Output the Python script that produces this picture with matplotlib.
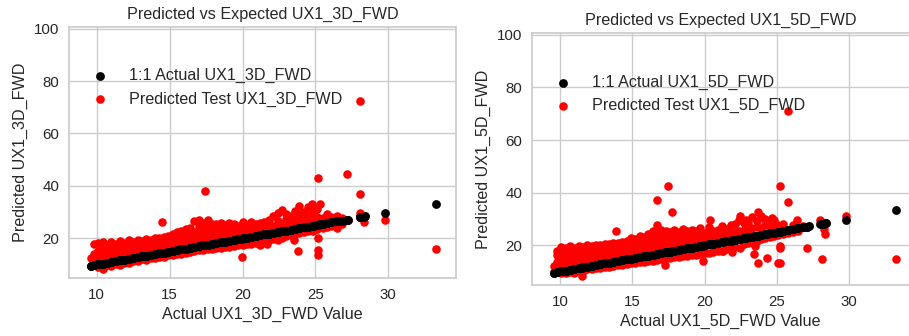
import matplotlib
matplotlib.use('Agg')
import matplotlib.pyplot as plt

# --- data ---
# each entry of act_* is an actual value; pred_* holds the predicted values seen at that actual value
act_3d = [9.6, 9.8, 10.1, 10.4, 10.7, 11.0, 11.3, 11.6, 11.9, 12.2, 12.5, 12.8, 13.1, 13.4, 13.7,
          14.0, 14.3, 14.46, 14.6, 14.9, 15.2, 15.5, 15.8, 16.1, 16.4, 16.7, 17.0, 17.3, 17.43, 17.6,
          17.9, 18.2, 18.5, 18.8, 19.1, 19.4, 19.7, 19.94, 20.0, 20.3, 20.6, 20.9, 21.2, 21.5, 21.7,
          21.8, 22.1, 22.4, 22.7, 23.0, 23.3, 23.5, 23.6, 23.83, 23.9, 24.2, 24.5, 24.75, 24.8, 25.1,
          25.2, 25.3, 25.5, 25.8, 26.1, 26.5, 26.8, 27.15, 27.2, 28.05, 28.33, 28.4, 29.77, 33.25]
pred_3d = [[9.6, 12.4], [10.8, 14.0, 17.8], [9.0, 12.0, 15.2, 18.3], [8.4, 11.0, 13.6, 16.5, 18.6],
           [9.8, 12.6, 15.0, 17.6], [9.6, 11.8, 14.2, 16.6, 18.8], [10.2, 13.0, 15.6, 18.0],
           [10.0, 12.4, 14.8, 17.2, 19.0], [10.8, 13.8, 16.4, 18.4], [10.6, 12.8, 15.2, 17.6, 19.2],
           [11.4, 14.2, 16.6, 18.6], [11.2, 13.4, 15.8, 18.0, 19.4], [12.0, 14.6, 17.0, 19.0],
           [11.8, 14.0, 16.2, 18.4, 19.6], [12.4, 15.2, 17.6, 19.4],
           [12.4, 14.6, 16.8, 19.0, 20.2], [13.0, 15.6, 18.0, 20.0], [26.3],
           [13.0, 15.0, 17.2, 19.4, 20.6], [13.6, 16.2, 18.6, 21.0], [13.6, 15.6, 17.8, 20.0, 21.8],
           [14.2, 16.8, 19.2, 22.4], [14.2, 16.4, 18.4, 20.6, 23.0], [14.6, 17.2, 19.6, 22.0, 23.6],
           [15.0, 17.0, 19.0, 21.2, 24.0], [15.2, 17.8, 20.2, 22.6, 26.5],
           [15.4, 17.6, 19.8, 22.0, 24.4, 27.2], [15.6, 18.2, 20.6, 23.2, 25.8], [38.1],
           [15.8, 18.0, 20.0, 22.2, 24.6, 27.0],
           [16.0, 18.6, 21.0, 23.4, 25.6], [16.2, 18.4, 20.6, 22.8, 25.4], [16.4, 19.0, 21.4, 23.8, 26.0],
           [16.6, 18.8, 21.0, 23.2, 25.2], [16.8, 19.4, 21.8, 24.2, 25.8], [17.0, 19.2, 21.4, 23.6, 25.6],
           [17.4, 19.8, 22.2, 24.6], [13.0], [17.6, 20.0, 22.0, 24.0, 26.2], [17.8, 20.4, 22.6, 25.0],
           [18.0, 20.6, 22.4, 24.6, 26.4], [18.2, 21.0, 23.2, 25.4], [17.4, 19.0, 21.2, 23.6, 26.0],
           [18.6, 21.6, 24.4, 26.4], [17.8],
           [19.2, 21.8, 23.6, 25.6, 27.2], [19.6, 22.2, 24.8, 28.4], [19.4, 22.4, 24.4, 26.6, 29.6],
           [20.0, 22.8, 25.6, 30.8], [20.8, 23.0, 25.0, 27.4, 29.2], [21.2, 23.4, 26.2, 28.6], [19.3],
           [21.6, 23.6, 25.8, 28.0, 30.6], [15.2], [22.0, 24.0, 26.4, 29.4, 32.4], [22.4, 24.2, 27.0, 30.2],
           [22.8, 24.6, 26.8, 29.0, 32.0], [33.1], [23.0, 24.8, 27.6, 30.4], [23.4, 25.2, 28.0, 31.2],
           [20.2, 15.5, 13.6, 43.1], [33.3, 25.3], [24.0, 25.6, 27.6], [24.4, 25.8, 29.3], [24.8, 26.1, 28.2],
           [23.8, 26.5, 28.5], [25.6, 26.8, 27.6], [27.15, 44.4], [27.2], [72.4, 36.9, 29.8], [26.3],
           [28.4], [27.2], [15.8]]

act_5d = [9.6, 9.8, 10.1, 10.4, 10.7, 11.0, 11.3, 11.5, 11.6, 11.9, 12.2, 12.5, 12.8, 13.1, 13.4,
          13.7, 13.88, 14.0, 14.3, 14.6, 14.9, 15.2, 15.5, 15.8, 16.1, 16.4, 16.69, 16.7, 17.0, 17.27,
          17.3, 17.47, 17.6, 17.75, 17.9, 18.2, 18.5, 18.8, 19.1, 19.4, 19.7, 19.9, 20.0, 20.3, 20.4,
          20.6, 20.9, 21.2, 21.3, 21.5, 21.8, 21.9, 22.1, 22.4, 22.46, 22.7, 22.9, 23.0, 23.3, 23.4,
          23.5, 23.6, 23.7, 23.9, 24.2, 24.3, 24.5, 24.65, 24.8, 25.1, 25.22, 25.4, 25.76, 25.8, 26.1,
          26.4, 26.5, 26.8, 27.1, 27.2, 28.0, 28.1, 28.27, 28.34, 28.4, 29.77, 33.23]
pred_5d = [[10.0, 12.2], [10.8, 13.6, 16.2, 17.8], [9.6, 12.0, 14.6, 17.4, 19.2], [9.4, 11.2, 13.8, 16.4, 18.8],
           [10.0, 12.6, 15.2, 17.8, 19.6], [9.6, 11.8, 14.2, 16.6, 19.0], [10.4, 13.0, 15.6, 18.2, 19.8],
           [8.5], [10.2, 12.4, 14.8, 17.2, 19.4], [10.8, 13.8, 16.4, 18.6, 20.0],
           [10.8, 12.8, 15.2, 17.6, 19.6], [11.4, 14.2, 16.6, 19.0, 20.2], [11.4, 13.4, 15.8, 18.0, 20.0],
           [11.8, 14.6, 17.0, 19.4, 20.6], [11.8, 14.0, 16.2, 18.4, 20.4],
           [12.2, 15.0, 17.4, 19.8, 21.0], [25.6], [12.4, 14.6, 16.8, 19.0, 20.8],
           [12.6, 15.6, 18.0, 20.4, 21.4], [12.8, 15.0, 17.2, 19.4, 21.6], [13.2, 16.0, 18.6, 21.2, 22.6],
           [13.4, 15.6, 17.8, 20.2, 22.4], [13.6, 16.6, 19.2, 21.8, 23.6], [13.8, 16.2, 18.4, 20.6, 23.0],
           [14.0, 17.0, 19.6, 22.2, 24.2], [14.2, 16.6, 18.8, 21.2, 23.6, 25.4], [27.9, 37.4],
           [14.4, 17.4, 20.0, 22.6, 25.0], [14.6, 17.2, 19.6, 22.0, 24.4, 26.0], [12.6],
           [15.0, 18.0, 20.6, 23.2, 25.4], [42.5], [15.2, 17.8, 20.2, 22.6, 25.0], [32.7],
           [15.4, 18.4, 21.0, 23.6, 25.8], [15.6, 18.2, 20.6, 22.8, 25.2], [15.8, 18.8, 21.4, 23.8, 26.2],
           [16.0, 18.6, 21.0, 23.4, 25.6], [16.2, 19.2, 21.8, 24.2, 26.0], [16.4, 19.0, 21.4, 23.6, 25.4],
           [16.8, 19.6, 22.2, 24.6, 26.4], [13.9], [17.0, 20.0, 22.4, 24.8], [17.2, 20.4, 22.8, 25.4, 27.0],
           [29.8], [17.6, 20.6, 23.0, 25.6], [17.8, 20.9, 23.4, 26.0], [18.0, 21.2, 23.8, 27.2], [17.7],
           [18.4, 21.5, 24.0, 26.2], [18.8, 21.8, 24.6, 27.6], [17.3], [19.4, 22.1, 25.0, 28.0],
           [22.4, 25.4, 29.6], [19.0, 31.3], [20.4, 22.7, 26.0, 28.4], [29.8], [21.0, 23.0, 25.8, 28.8],
           [21.4, 23.3, 26.4, 30.6], [16.5], [19.6], [21.8, 23.6, 27.0, 29.4], [13.3, 32.6],
           [22.2, 23.9, 26.6, 31.0], [22.6, 24.2, 27.6, 30.0], [15.2], [23.0, 24.5, 26.8, 28.6], [30.2],
           [23.4, 24.8, 27.4, 29.6], [13.3, 23.8, 25.1, 27.6], [42.7, 19.6, 19.0, 13.3], [24.2, 25.4, 28.2],
           [71.0], [36.6, 24.6, 25.8], [25.0, 26.1, 27.8], [29.8, 26.4], [25.4], [26.8, 27.4],
           [19.0, 27.1], [27.2], [29.8], [14.8], [26.2], [24.3], [28.4], [31.3], [14.8]]

panels = [('UX1_3D_FWD', act_3d, pred_3d), ('UX1_5D_FWD', act_5d, pred_5d)]
x_ticks = [10, 15, 20, 25, 30]
y_ticks = [20, 40, 60, 80, 100]

# --- style (close to seaborn whitegrid) ---
plt.rcParams['font.family'] = ['Liberation Sans', 'DejaVu Sans']
plt.rcParams['text.color'] = '.15'
plt.rcParams['axes.labelcolor'] = '.15'
plt.rcParams['xtick.color'] = '.15'
plt.rcParams['ytick.color'] = '.15'

fig = plt.figure(figsize=(9.09, 3.36), dpi=100)
axes = [fig.add_axes([69 / 909, 1 - 278 / 336, 387 / 909, 251 / 336]),
        fig.add_axes([532 / 909, 1 - 285 / 336, 377 / 909, 251.7 / 336])]
xlims = [(8.1, 34.64), (8.06, 34.15)]

for ax, (name, act, pred), xl in zip(axes, panels, xlims):
    xs = [a for a, ps in zip(act, pred) for _ in ps]
    ys = [p for ps in pred for p in ps]

    red = ax.scatter(xs, ys, s=38, c='red', linewidths=0, zorder=2, label=f'Predicted Test {name}')
    black = ax.scatter(xs, xs, s=40, c='black', linewidths=0, zorder=3, label=f'1:1 Actual {name}')

    ax.set_xlim(*xl)
    ax.set_ylim(4.9, 100.6)
    ax.set_xticks(x_ticks)
    ax.set_yticks(y_ticks)
    ax.tick_params(length=0, pad=7, labelsize=10.8)
    ax.grid(True, color='.8', linewidth=1)
    ax.set_axisbelow(True)
    for sp in ax.spines.values():
        sp.set_color('.8')
        sp.set_linewidth(1.25)

    ax.set_title(f'Predicted vs Expected {name}', fontsize=11.6)
    ax.set_xlabel(f'Actual {name} Value', fontsize=11.6)
    ax.set_ylabel(f'Predicted {name}', fontsize=11.6)
    ax.legend(handles=[black, red], loc='center left', bbox_to_anchor=(0.0, 0.759),
              frameon=False, fontsize=11.6, scatterpoints=1)

axes[1].spines['right'].set_visible(False)

fig.savefig('out.png', dpi=100)
